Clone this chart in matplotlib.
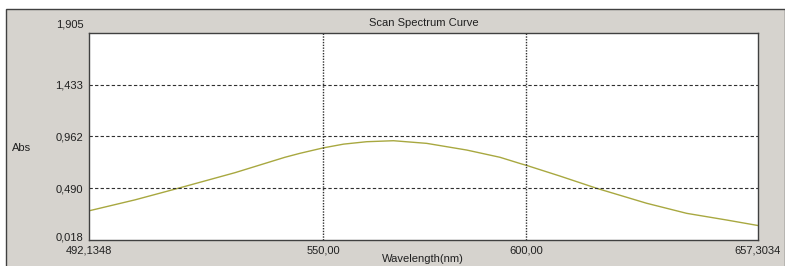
import matplotlib
matplotlib.use("Agg")
import matplotlib.pyplot as plt
from matplotlib.patches import Rectangle
from matplotlib.transforms import ScaledTranslation

# data
wavelength = [492.1348, 503.5, 514.1, 528.2, 540.5, 544.2, 547.9, 550.0,
              555.0, 560.7, 567.3, 575.5, 585.4, 593.6, 598.5, 600.6,
              608.4, 617.5, 629.8, 639.7, 649.6, 657.3034]
absorb = [0.284, 0.384, 0.489, 0.632, 0.772, 0.808, 0.840, 0.858,
          0.892, 0.914, 0.923, 0.899, 0.838, 0.772, 0.716, 0.693,
          0.601, 0.489, 0.353, 0.261, 0.200, 0.150]

x_ticks = [492.1348, 550.0, 600.0, 657.3034]
x_labels = ["492,1348", "550,00", "600,00", "657,3034"]
y_ticks = [0.018, 0.490, 0.962, 1.433, 1.905]
y_labels = ["0,018", "0,490", "0,962", "1,433", "1,905"]

W, H = 785, 266
fig = plt.figure(figsize=(W / 100, H / 100), dpi=100, facecolor="white")
plt.rcParams["font.family"] = ["Liberation Sans", "DejaVu Sans"]

# grey window panel behind everything
fig.patches.append(Rectangle((6 / W, -0.01), 1 - 6 / W, 1.01 - 9 / H, transform=fig.transFigure,
                             facecolor="#d6d3ce", edgecolor="#404040", linewidth=1, zorder=-10))

ax = fig.add_axes([89 / W, 1 - 240 / H, (758 - 89) / W, (240 - 33) / H])
ax.set_facecolor("white")
ax.plot(wavelength, absorb, color="#a8a840", linewidth=1)

ax.set_xlim(x_ticks[0], x_ticks[-1])
ax.set_ylim(y_ticks[0], y_ticks[-1])
ax.set_xticks(x_ticks)
ax.set_xticklabels(x_labels, fontsize=8, color="#202020")
ax.set_yticks(y_ticks)
ax.set_yticklabels(y_labels, fontsize=8, color="#202020")
ax.tick_params(length=0, pad=4)

# end labels sit a bit inside / above like the original
yl = ax.get_yticklabels()
yl[0].set_transform(yl[0].get_transform() + ScaledTranslation(0, 4 / 100, fig.dpi_scale_trans))
yl[-1].set_transform(yl[-1].get_transform() + ScaledTranslation(0, 9 / 100, fig.dpi_scale_trans))

for y in y_ticks[1:-1]:
    ax.axhline(y, color="#303030", linestyle=(0, (3, 2)), linewidth=0.8)
for x in x_ticks[1:-1]:
    ax.axvline(x, color="#303030", linestyle=(0, (1, 1)), linewidth=1)

for s in ax.spines.values():
    s.set_color("#404040")
    s.set_linewidth(1)

ax.set_title("Scan Spectrum Curve", fontsize=8, pad=5, color="#202020")
fig.text(12 / W, 1 - 148 / H, "Abs", fontsize=8, va="center", color="#202020")
fig.text(423 / W, 1 - 259 / H, "Wavelength(nm)", fontsize=8, ha="center", va="center", color="#202020")

fig.savefig("out.png", dpi=100, facecolor=fig.get_facecolor())
